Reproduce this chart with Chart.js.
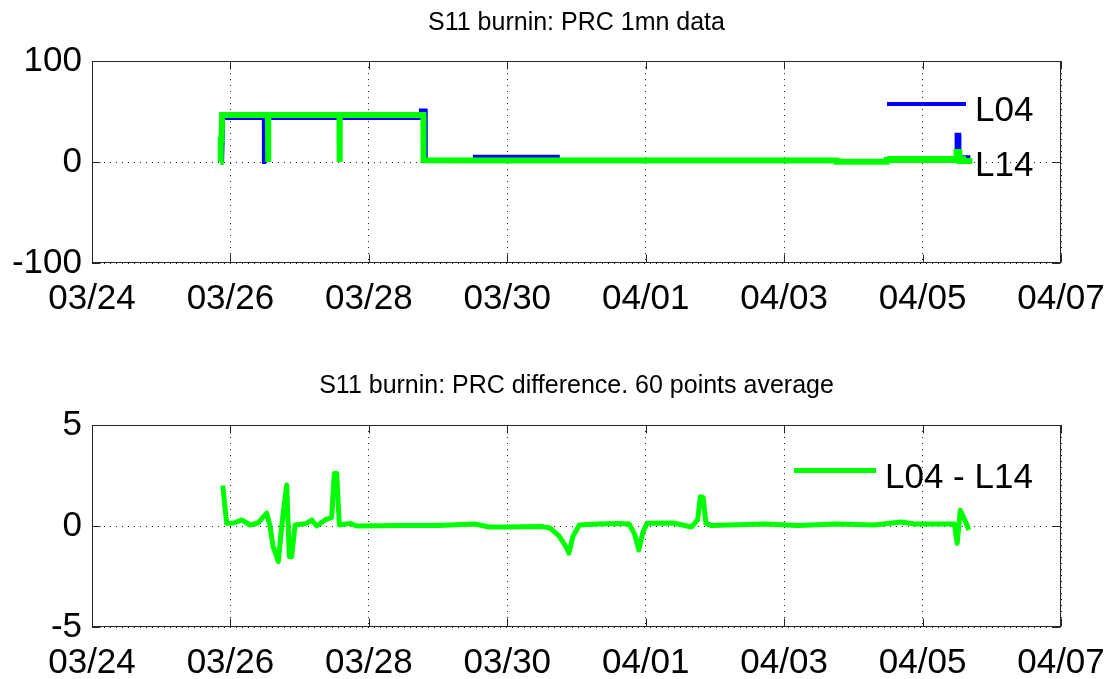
<!DOCTYPE html>
<html><head><meta charset="utf-8">
<script src="https://cdn.jsdelivr.net/npm/chart.js@4/dist/chart.umd.min.js"></script>
<style>
html,body{margin:0;padding:0;background:#fff;width:1118px;height:679px;overflow:hidden;}
.wrap{position:absolute;left:0;width:1118px;}
.leg{position:absolute;font-family:"Liberation Sans",Arial,sans-serif;font-size:35px;line-height:35px;color:#000;white-space:nowrap;}
.sw{position:absolute;}
</style></head><body>
<div class="wrap" style="top:0;height:340px"><canvas id="c1" width="1118" height="340"></canvas></div>
<div class="wrap" style="top:340px;height:339px"><canvas id="c2" width="1118" height="339"></canvas></div>
<div id="legends"></div>
<script>
// ---- data (x = days since 03/24 00:00) ----
const xTickLabels = ["03/24", "03/26", "03/28", "03/30", "04/01", "04/03", "04/05", "04/07"];
const topTitle = "S11 burnin: PRC 1mn data";
const bottomTitle = "S11 burnin: PRC difference. 60 points average";
const topSeriesNames = ["L04", "L14"];
const bottomSeriesNames = ["L04 - L14"];

const l04Days   = [1.88, 1.895, 2.483, 2.484, 2.487, 2.488, 4.75, 4.752, 4.82, 4.822, 5.53, 5.532, 6.73, 6.732, 12.49, 12.492, 12.53, 12.532, 12.69];
const l04Values = [0,    43.5,  43.5,  0,     0,     43.5,  43.5, 51,    51,   2,     2,    5.2,   5.2,  1.0,   1.0,   27,     27,    4.6,    4.6];

const l14Days   = [1.855, 1.86, 1.872, 1.88, 2.543, 2.544, 2.547, 2.548, 3.575, 3.576, 3.579, 3.58, 4.788, 4.79, 5.6, 7.5, 10.76, 10.762, 11.48, 11.482, 12.49, 12.492, 12.53, 12.532, 12.72];
const l14Values = [0,     22,   22,    46.5, 46.5,  0,     0,     46.5,  46.5,  0,     0,     46.5, 46.5,  1.7,  1.6, 1.5, 1.5,   0.3,    0.3,   2.0,    2.0,   10,     10,    1.0,    1.0];

const diffDays   = [1.889, 1.946, 2.05, 2.163, 2.283, 2.40, 2.524, 2.572, 2.615, 2.692, 2.741, 2.813, 2.851, 2.885, 2.933, 3.102, 3.174, 3.247, 3.367, 3.463, 3.501, 3.536, 3.573, 3.728, 3.825, 4.5, 5.0, 5.53, 5.74, 6.0, 6.5, 6.62, 6.75, 6.86, 6.89, 6.95, 7.04, 7.3, 7.6, 7.76, 7.84, 7.90, 7.96, 8.02, 8.4, 8.66, 8.75, 8.79, 8.83, 8.87, 8.95, 9.72, 10.2, 10.76, 11.3, 11.69, 11.89, 12.46, 12.50, 12.545, 12.60, 12.67];
const diffValues = [2.0,   0.13,  0.15, 0.3,   0.05,  0.15, 0.64,  0.0,   -1.0,  -1.77, 0.0,   2.03,  -1.52, -1.52, 0.05,  0.13,  0.3,   0.0,   0.3,   0.43,  2.6,   2.6,   0.05,  0.13,  0.0,   0.03, 0.02, 0.1, -0.05, -0.05, -0.03, -0.1, -0.5, -1.1, -1.35, -0.5, 0.05, 0.1, 0.12, 0.1, -0.4, -1.19, -0.3, 0.13, 0.15, -0.05, 0.3, 1.45, 1.4, 0.13, 0.02, 0.1, 0.03, 0.1, 0.05, 0.2, 0.1, 0.1, -0.86, 0.78, 0.38, -0.2];

// ---- helpers ----
const FONT = '"Liberation Sans", Arial, Helvetica, sans-serif';
const zip = (xs, ys) => xs.map((x, i) => ({x: x, y: ys[i]}));

const framePlugin = {
  id: 'frame',
  afterDraw(chart) {
    const {ctx, chartArea: a, scales} = chart;
    const L = 8;
    ctx.save();
    ctx.strokeStyle = '#262626';
    ctx.lineWidth = 1;
    const l = Math.round(a.left) + 0.5, r = Math.round(a.right) - 0.5, t = Math.round(a.top) + 0.5, b = Math.round(a.bottom) - 0.5;
    ctx.strokeRect(l, t, r - l, b - t);
    ctx.beginPath();
    scales.x.ticks.forEach(tk => {
      const px = Math.round(scales.x.getPixelForValue(tk.value)) + 0.5;
      ctx.moveTo(px, t); ctx.lineTo(px, t + L);
      ctx.moveTo(px, b); ctx.lineTo(px, b - L);
    });
    scales.y.ticks.forEach(tk => {
      const py = Math.round(scales.y.getPixelForValue(tk.value)) + 0.5;
      ctx.moveTo(l, py); ctx.lineTo(l + L, py);
      ctx.moveTo(r, py); ctx.lineTo(r - L, py);
    });
    ctx.stroke();
    ctx.restore();
  }
};

function makeChart(canvas, datasets, o) {
  return new Chart(canvas, {
    type: 'line',
    data: {datasets: datasets},
    options: {
      responsive: false, animation: false, devicePixelRatio: 1,
      layout: {padding: {left: 0, right: 57, top: 0, bottom: 0}},
      plugins: {
        legend: {display: false},
        tooltip: {enabled: false},
        title: {
          display: true, text: o.title, fullSize: false, color: '#000',
          font: {family: FONT, size: 25, weight: 'normal', lineHeight: 1.2},
          padding: {top: o.titleTop, bottom: o.titleBottom}
        }
      },
      elements: {
        point: {radius: 0, hoverRadius: 0},
        line: {tension: 0, borderCapStyle: 'butt', borderJoinStyle: o.join, fill: false}
      },
      scales: {
        x: {
          type: 'linear', min: 0, max: 14,
          ticks: {stepSize: 2, padding: 15, color: '#000', maxRotation: 0, autoSkip: false,
            font: {family: FONT, size: 35, lineHeight: 1.2},
            callback: v => xTickLabels[Math.round(v / 2)]},
          grid: {color: '#222', lineWidth: 1, drawTicks: false},
          border: {display: false, dash: [1, 5]},
          afterFit: s => { s.height = o.xAxisHeight; s.paddingLeft = 0; s.paddingRight = 0; }
        },
        y: {
          type: 'linear', min: o.yMin, max: o.yMax,
          ticks: {stepSize: o.yStep, padding: 10, color: '#000',
            font: {family: FONT, size: 35, lineHeight: 1.2}},
          grid: {color: '#222', lineWidth: 1, drawTicks: false},
          border: {display: false, dash: [1, 5]},
          afterFit: s => { s.width = 92; s.paddingTop = 0; s.paddingBottom = 0; }
        }
      }
    },
    plugins: [framePlugin]
  });
}

const chartTop = makeChart(document.getElementById('c1'), [
  {label: topSeriesNames[0], data: zip(l04Days, l04Values), borderColor: '#0000ff', backgroundColor: '#0000ff', borderWidth: 4, order: 1},
  {label: topSeriesNames[1], data: zip(l14Days, l14Values), borderColor: '#00ff00', backgroundColor: '#00ff00', borderWidth: 6, order: 0}
], {title: topTitle, titleTop: 8.5, titleBottom: 22.5, xAxisHeight: 77, yMin: -100, yMax: 100, yStep: 100, join: 'miter'});

const chartBottom = makeChart(document.getElementById('c2'), [
  {label: bottomSeriesNames[0], data: zip(diffDays, diffValues), borderColor: '#00ff00', backgroundColor: '#00ff00', borderWidth: 5}
], {title: bottomTitle, titleTop: 31.5, titleBottom: 23.5, xAxisHeight: 52, yMin: -5, yMax: 5, yStep: 5, join: 'round'});

// ---- legends (no box, MATLAB style) ----
function addLegend(chart, slots) {
  const host = document.getElementById('legends');
  chart.data.datasets.forEach((ds, i) => {
    const s = slots[i];
    const sw = document.createElement('div');
    sw.className = 'sw';
    sw.style.cssText = `left:${s.lineX}px;top:${s.lineY - ds.borderWidth / 2}px;width:${s.lineW}px;height:${ds.borderWidth}px;background:${ds.borderColor};`;
    host.appendChild(sw);
    const tx = document.createElement('div');
    tx.className = 'leg';
    tx.style.left = s.textX + 'px';
    tx.style.top = s.textY + 'px';
    tx.textContent = ds.label;
    host.appendChild(tx);
  });
}
addLegend(chartTop, [
  {lineX: 887, lineY: 104, lineW: 79, textX: 975, textY: 91},
  {lineX: 887, lineY: 159, lineW: 79, textX: 975, textY: 146}
]);
addLegend(chartBottom, [
  {lineX: 794, lineY: 470, lineW: 82, textX: 885, textY: 458}
]);
</script>
</body></html>
